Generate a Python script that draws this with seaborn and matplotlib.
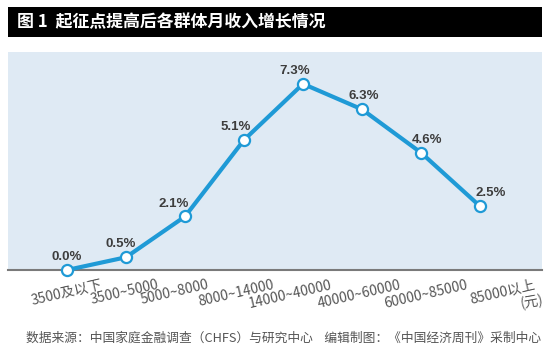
import numpy as np
import pandas as pd
import matplotlib
matplotlib.use("Agg")
import matplotlib.pyplot as plt
import matplotlib.transforms as mtransforms
from matplotlib.patches import Rectangle
import seaborn as sns

# ---- data ----
groups = ["3500及以下", "3500~5000", "5000~8000", "8000~14000",
          "14000~40000", "40000~60000", "60000~85000", "85000以上"]
growth = [0.0, 0.5, 2.1, 5.1, 7.3, 6.3, 4.6, 2.5]
title = "图 1  起征点提高后各群体月收入增长情况"
unit_label = "(元)"
source = "数据来源：中国家庭金融调查（CHFS）与研究中心    编辑制图：《中国经济周刊》采制中心"

df = pd.DataFrame({"group": groups, "growth": growth})

sns.set_theme(style="white")
plt.rcParams["font.family"] = ["Noto Sans CJK SC", "DejaVu Sans"]

W, H = 550, 355
fig = plt.figure(figsize=(W / 100, H / 100), dpi=100)
fig.patch.set_facecolor("white")

ax = fig.add_axes([8 / W, 1 - 270 / H, 534 / W, (270 - 52) / H])
ax.set_facecolor("#dfeaf4")

line_color = "#1f9ad6"
sns.lineplot(data=df, x="group", y="growth", sort=False, ax=ax,
             color=line_color, linewidth=3, marker="o", markersize=8,
             markerfacecolor="white", markeredgecolor=line_color,
             markeredgewidth=1.6, clip_on=False, zorder=5)

ax.set_xlim(-1.0, 8.05)
ax.set_ylim(0, 8.55)
ax.set_xlabel("")
ax.set_ylabel("")
ax.set_yticks([])
for s in ["left", "top", "right"]:
    ax.spines[s].set_visible(False)
ax.spines["bottom"].set_color("#7a7a7a")
ax.spines["bottom"].set_linewidth(1.5)
ax.spines["bottom"].set_zorder(3)

# value labels
lab_dx = [0, -5, -11, -8, -8, 2, 6, 11]   # px
for i, v in enumerate(growth):
    ax.annotate(f"{v:.1f}%", xy=(i, v), xytext=(lab_dx[i] * 0.72, 5),
                textcoords="offset points", ha="center", va="bottom",
                fontsize=9.5, fontweight="bold", color="#3d3d3d",
                family=["Liberation Sans", "DejaVu Sans"], zorder=6)

# x tick labels
ax.set_xticks(range(len(groups)))
ax.set_xticklabels(groups, rotation=13, ha="right", va="top",
                   rotation_mode="anchor", fontsize=10, color="#555555")
ax.tick_params(axis="x", length=0, pad=0)
tick_dx = [33, 31, 22, 28, 27, 37, 45, 53]  # px
for lbl, dx in zip(ax.get_xticklabels(), tick_dx):
    off = mtransforms.ScaledTranslation(dx / 100, -8 / 100, fig.dpi_scale_trans)
    lbl.set_transform(lbl.get_transform() + off)

fig.text(545 / W, 1 - 302 / H, unit_label, ha="right", va="center",
         fontsize=10, color="#555555", rotation=10)

# title bar
fig.patches.append(Rectangle((8 / W, 1 - 37 / H), 534 / W, 30 / H,
                             transform=fig.transFigure, facecolor="black",
                             edgecolor="none", zorder=0))
fig.text(17 / W, 1 - 22.5 / H, title, ha="left", va="center",
         fontsize=12.2, fontweight="bold", color="white")

# footer
fig.text(26 / W, 1 - 338 / H, source, ha="left", va="center",
         fontsize=9.2, color="#555555")

fig.savefig("out.png", dpi=100)
